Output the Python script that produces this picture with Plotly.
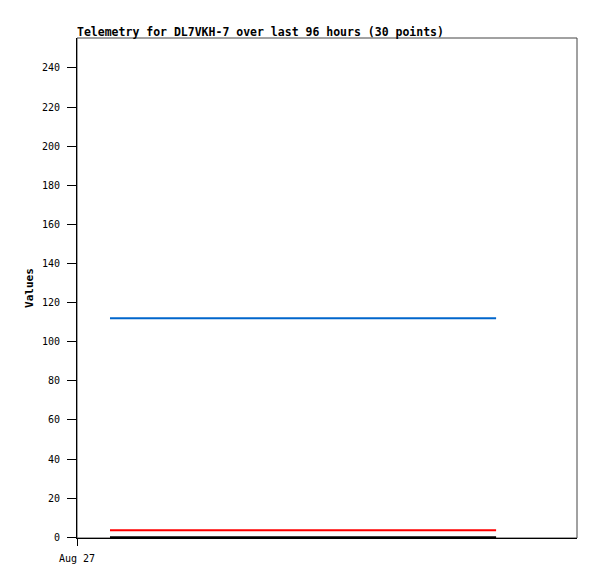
import plotly.graph_objects as go

# Data
times = ["2024-08-27 01:35", "2024-08-27 20:07"]
series_blue = [112, 112]
series_red = [3.6, 3.6]
series_black = [0, 0]
x_range = ["2024-08-27 00:00", "2024-08-28 00:00"]
y_ticks = [0, 20, 40, 60, 80, 100, 120, 140, 160, 180, 200, 220, 240]

fig = go.Figure()
fig.add_trace(go.Scatter(x=times, y=series_black, mode="lines",
                         line=dict(color="#000000", width=2), showlegend=False))
fig.add_trace(go.Scatter(x=times, y=series_red, mode="lines",
                         line=dict(color="#ff0000", width=2), showlegend=False))
fig.add_trace(go.Scatter(x=times, y=series_blue, mode="lines",
                         line=dict(color="#0066cc", width=2), showlegend=False))

fig.add_shape(type="rect", xref="paper", yref="paper", x0=0, y0=0, x1=1, y1=1,
              line=dict(color="#444444", width=1), layer="below")

mono = "DejaVu Sans Mono, Liberation Mono, monospace"
W, H = 589, 571
fig.update_layout(
    width=W, height=H,
    margin=dict(l=69, r=20, t=30, b=41),
    paper_bgcolor="white", plot_bgcolor="white",
    font=dict(family=mono, size=10, color="#000000"),
    title=dict(text="<b>Telemetry for DL7VKH-7 over last 96 hours (30 points)</b>",
               x=69 / W, xanchor="left", y=1 - 28 / H, yanchor="bottom",
               font=dict(family=mono, size=11.5, color="#000000")),
    xaxis=dict(range=x_range, type="date",
               tickvals=[x_range[0]], ticktext=["Aug 27"],
               showgrid=False, zeroline=False, showline=True,
               linecolor="#000000", linewidth=1, ticks="outside", ticklen=7,
               ticklabelstandoff=4,
               tickcolor="#000000", tickfont=dict(family=mono, size=10)),
    yaxis=dict(range=[-0.4, 255.3], tickvals=y_ticks,
               showgrid=False, zeroline=False, showline=True,
               linecolor="#000000", linewidth=1, ticks="outside", ticklen=9,
               ticklabelstandoff=5,
               tickcolor="#000000", tickfont=dict(family=mono, size=10),
               title=dict(text="<b>Values</b>", standoff=6,
                          font=dict(family=mono, size=11))),
)

fig.write_html("out.html")
